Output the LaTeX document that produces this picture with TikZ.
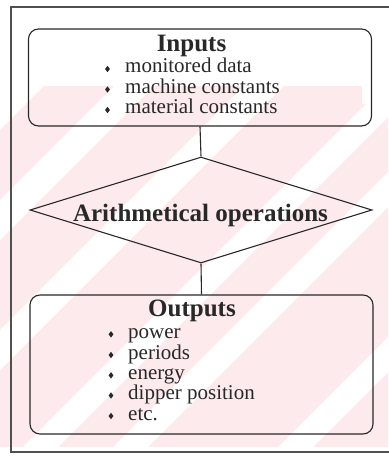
\documentclass[tikz,border=0pt]{standalone}
\usepackage{fontspec}
\setmainfont{Liberation Serif}
\usetikzlibrary{shapes.geometric}
\definecolor{wm}{RGB}{252,234,237}
\definecolor{ink}{RGB}{40,40,40}
\definecolor{framec}{RGB}{80,80,80}
\begin{document}
\begin{tikzpicture}[x=1pt,y=-1pt,
  box/.style={draw=ink, line width=1.1pt, rounded corners=10pt, inner sep=0pt},
  dia/.style={diamond, draw=ink, line width=1.1pt, inner sep=0pt, aspect=3.2},
  head/.style={font=\fontsize{25}{25}\selectfont\bfseries, text=ink, inner sep=0pt, anchor=base},
  item/.style={font=\fontsize{21}{21}\selectfont, text=ink, inner sep=0pt, anchor=base west},
  link/.style={draw=ink, line width=1.1pt},
  frameline/.style={draw=framec, line width=1.4pt},
  bul/.pic={\fill[ink] (0,-3.2) -- (2.4,0) -- (0,3.2) -- (-2.4,0) -- cycle;}
]
\useasboundingbox (0,0) rectangle (388,457);
% faint watermark stripes
\begin{scope}
  \clip (0,86) rectangle (388,447);
  \fill[wm] (0,86) rectangle (388,447);
  \fill[white] (0,0) -- (130,0) -- (-470,600) -- (-600,600) -- cycle;
  \foreach \a/\b in {200/240, 330/370, 470/505, 560/595, 725/760}{
    \fill[white] (\a,0) -- (\b,0) -- (\b-600,600) -- (\a-600,600) -- cycle;
  }
  \fill[white] (362,86) rectangle (388,104);
\end{scope}
% frame
\draw[frameline] (390,7) -- (11,7) -- (11,452) -- (390,452);
% boxes
\node[box, minimum width=343pt, minimum height=97pt] (inbox) at (200,77.5) {};
\node[dia, minimum width=342pt, minimum height=106pt] (ops) at (201,210) {};
\node[box, minimum width=343pt, minimum height=139pt] (outbox) at (201.5,364.5) {};
\draw[link] (inbox.south) -- (ops.north);
\draw[link] (ops.south) -- (outbox.north);
% texts
\node[head] (inhead) at (191.5,52) {Inputs};
\node[item] (in1) at (125,73) {monitored data};
\node[item] (in2) at (125,93.5) {machine constants};
\node[item] (in3) at (125,114) {material constants};
\foreach \y in {73,93.5,114} \pic at (107.5,\y-4) {bul};
\node[head] (opstext) at (200.5,221.7) {Arithmetical operations};
\node[head] (outhead) at (192,316.7) {Outputs};
\node[item] (out1) at (128,338.3) {power};
\node[item] (out2) at (128,359) {periods};
\node[item] (out3) at (128,379.3) {energy};
\node[item] (out4) at (128,399.5) {dipper position};
\node[item] (out5) at (128,420) {etc.};
\foreach \y in {338.3,359,379.3,399.5,420} \pic at (111,\y-4) {bul};
\end{tikzpicture}
\end{document}
